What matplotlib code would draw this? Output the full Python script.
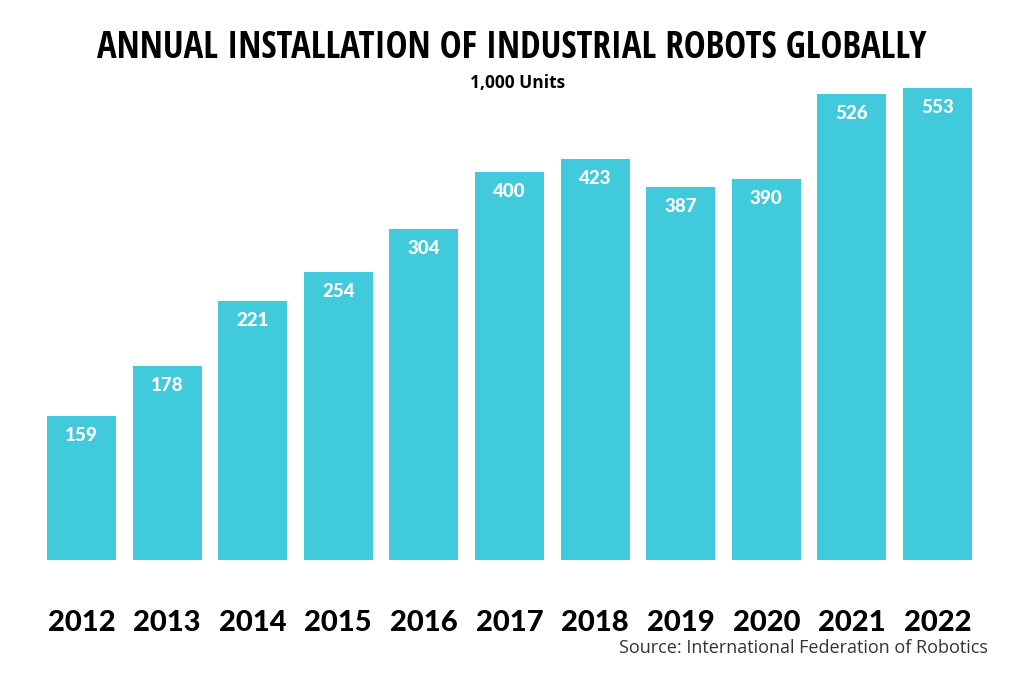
import matplotlib.pyplot as plt

years = ['2012', '2013', '2014', '2015', '2016', '2017', '2018', '2019', '2020', '2021', '2022']
# installations in 1,000 units (labels on the bars)
units = [159, 178, 221, 254, 304, 400, 423, 387, 390, 526, 553]
# bar heights as drawn in the picture (not to scale with the labels)
drawn_heights = [144, 194, 259, 288, 331, 388, 401, 373, 381, 466, 472]

bar_color = '#41CADB'

fig = plt.figure(figsize=(10.24, 6.73), dpi=100)
ax = fig.add_axes([0.0378, 0.168, 0.9195, 0.743])

x = range(len(years))
bars = ax.bar(x, drawn_heights, width=0.806, color=bar_color)

for b, v in zip(bars, units):
    ax.annotate(str(v), (b.get_x() + b.get_width() / 2, b.get_height()),
                xytext=(0, -14), textcoords='offset points',
                ha='center', va='center', color='white',
                fontsize=13.5, fontweight='black', family='Lato')

ax.set_xlim(-0.5, len(years) - 0.5)
ax.set_ylim(0, 500)
ax.set_xticks(list(x), years)
ax.tick_params(axis='x', length=0, pad=36, labelsize=21)
for lbl in ax.get_xticklabels():
    lbl.set_fontfamily('Lato')
    lbl.set_fontweight('black')
ax.set_yticks([])
for s in ax.spines.values():
    s.set_visible(False)

fig.text(0.5, 0.928, 'ANNUAL INSTALLATION OF INDUSTRIAL ROBOTS GLOBALLY',
         ha='center', va='center', fontsize=26.5, fontweight='bold',
         family='Open Sans Condensed')
fig.text(0.505, 0.877, '1,000 Units', ha='center', va='center',
         fontsize=12.5, fontweight='bold', family='Open Sans')
fig.text(0.965, 0.037, 'Source: International Federation of Robotics',
         ha='right', va='center', fontsize=13, color='#333333', family='Open Sans')

fig.savefig('out.png', dpi=100)
